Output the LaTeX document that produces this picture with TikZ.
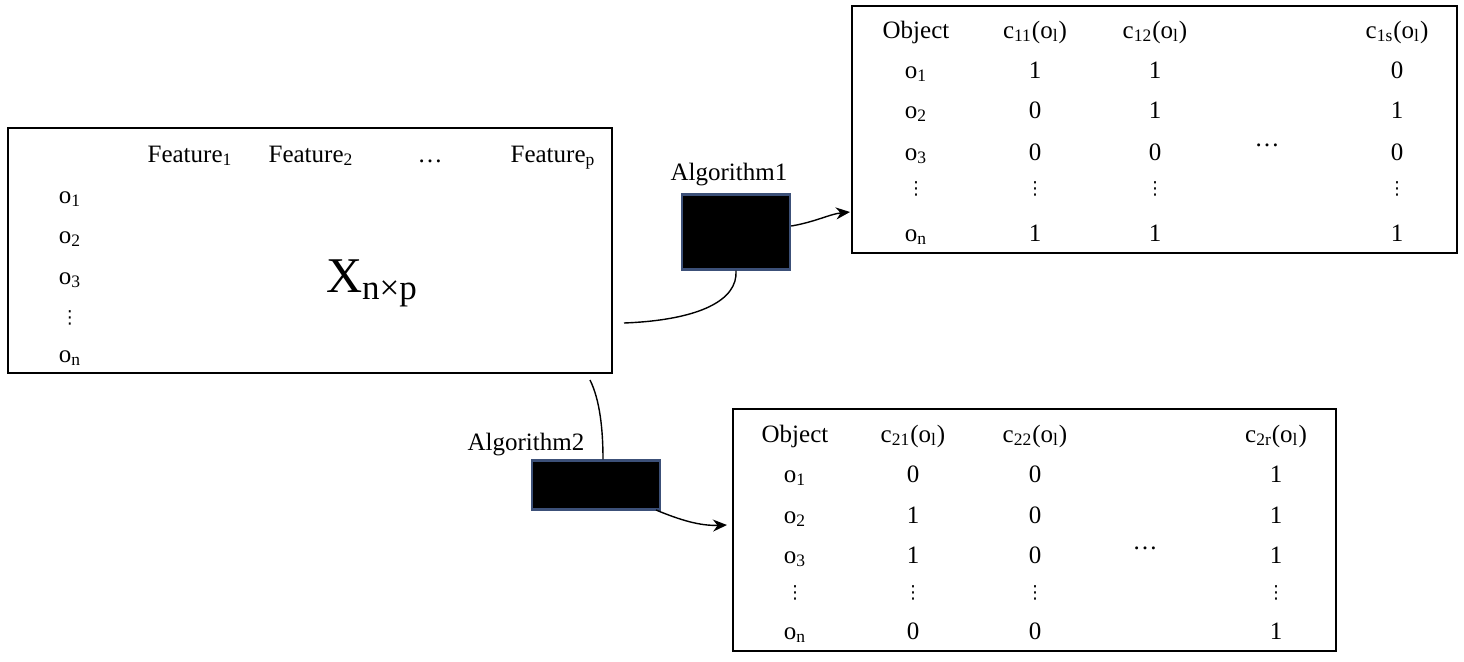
\documentclass[tikz,border=0pt]{standalone}
\usepackage{fontspec}
\setmainfont{Liberation Serif}
\newfontfamily\dvf{DejaVu Sans}
\usetikzlibrary{arrows.meta}
\newcommand{\sbs}[1]{\textsubscript{#1}}
\newcommand{\vd}{{\dvf\fontsize{9}{10}\selectfont ⋮}}
\begin{document}
\begin{tikzpicture}[x=0.5pt,y=-0.5pt,
  tbl/.style={draw,line width=1.2pt},
  alg/.style={fill=black,draw={rgb,255:red,60;green,80;blue,120},line width=1.2pt},
  t/.style={font=\fontsize{12.5}{14}\selectfont,inner sep=0pt,anchor=base},
  conn/.style={line width=0.7pt},
  arr/.style={conn,-{Stealth[length=7pt,width=6pt]}}]
\useasboundingbox (0,0) rectangle (1464,661);
% left matrix
\draw[tbl] (8,128) rectangle (612,373);
\coordinate (Xr) at (624,323);
\coordinate (Xb) at (590,380);
\foreach \x/\s in {190/Feature\sbs{1},311/Feature\sbs{2},430/…,553/Feature\sbs{p}}
  \node[t] at (\x,162) {\s};
\foreach \y/\s in {203/o\sbs{1},243/o\sbs{2},284/o\sbs{3},323/\vd,362/o\sbs{n}}
  \node[t] at (70,\y) {\s};
\node[t,font=\fontsize{25}{27}\selectfont] at (372,292) {X\textsubscript{n×p}};
% algorithm 1
\node[t] at (729,180) {Algorithm1};
\node[alg,minimum width=54pt,minimum height=37.5pt,inner sep=0] (A1) at (736,232) {};
% top table
\draw[tbl] (852,6) rectangle (1457,253);
\coordinate (T1) at (850,212);
\foreach \x/\s in {916/Object,1035/c\sbs{11}(o\sbs{l}),1155/c\sbs{12}(o\sbs{l}),1397/c\sbs{1s}(o\sbs{l})}
  \node[t] at (\x,38) {\s};
\foreach \y/\o/\a/\b/\c in {78/o\sbs{1}/1/1/0,118/o\sbs{2}/0/1/1,160/o\sbs{3}/0/0/0,194/\vd/\vd/\vd/\vd,241/o\sbs{n}/1/1/1}{
  \node[t] at (916,\y) {\o};\node[t] at (1035,\y) {\a};
  \node[t] at (1155,\y) {\b};\node[t] at (1397,\y) {\c};}
\node[t] at (1267,146) {…};
% algorithm 2
\node[t] at (526,450) {Algorithm2};
\node[alg,minimum width=64pt,minimum height=24.5pt,inner sep=0] (A2) at (596,485) {};
% bottom table
\draw[tbl] (733,409) rectangle (1336,651);
\coordinate (T2) at (727,525);
\foreach \x/\s in {795/Object,913/c\sbs{21}(o\sbs{l}),1035/c\sbs{22}(o\sbs{l}),1276/c\sbs{2r}(o\sbs{l})}
  \node[t] at (\x,442) {\s};
\foreach \y/\o/\a/\b/\c in {482/o\sbs{1}/0/0/1,523/o\sbs{2}/1/0/1,563/o\sbs{3}/1/0/1,598/\vd/\vd/\vd/\vd,639/o\sbs{n}/0/0/1}{
  \node[t] at (795,\y) {\o};\node[t] at (913,\y) {\a};
  \node[t] at (1035,\y) {\b};\node[t] at (1276,\y) {\c};}
\node[t] at (1145,549) {…};
% connectors
\draw[conn] (Xr) .. controls (700,320) and (738,300) .. (A1.south);
\draw[arr] (A1.east |- 0,226) .. controls (815,222) and (830,214) .. (T1);
\draw[conn] (Xb) .. controls (600,400) and (603,430) .. (A2.north -| 603,0);
\draw[arr] (656,510) .. controls (680,520) and (700,526) .. (T2);
\end{tikzpicture}
\end{document}
